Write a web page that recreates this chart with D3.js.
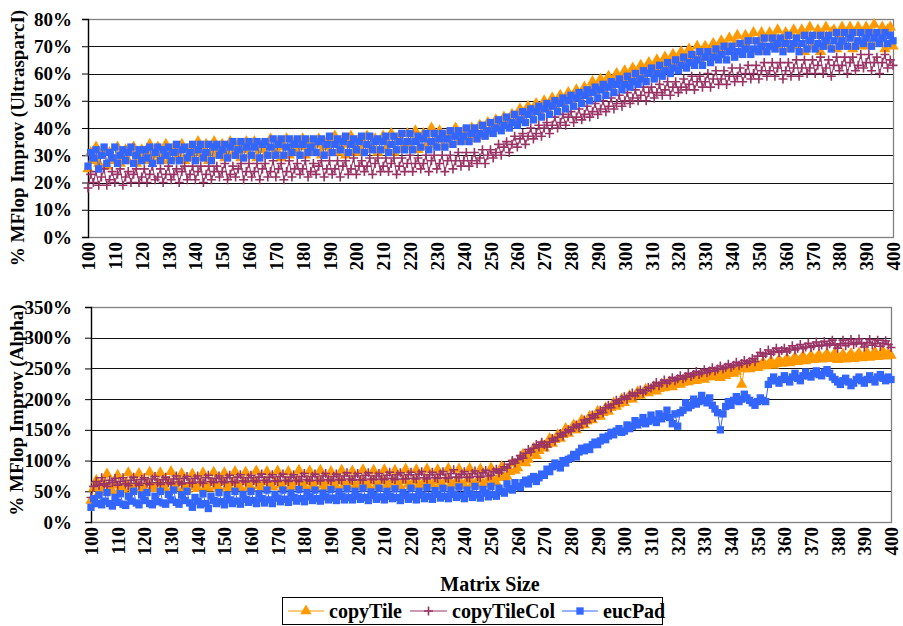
<!DOCTYPE html>
<html>
<head>
<meta charset="utf-8">
<script src="https://cdn.jsdelivr.net/npm/d3@7"></script>
<style>
  html, body { margin: 0; padding: 0; background: #fff; }
  svg { display: block; }
  text { font-family: "Liberation Serif", "Times New Roman", serif; font-weight: bold; fill: #000; }
</style>
</head>
<body>
<svg id="chart" width="903" height="626"></svg>
<script>
// Matrix sizes (one measurement per size) and axis labels
const sizes = d3.range(100, 401);
const xTickLabels = [100, 110, 120, 130, 140, 150, 160, 170, 180, 190, 200, 210, 220, 230, 240, 250,
                     260, 270, 280, 290, 300, 310, 320, 330, 340, 350, 360, 370, 380, 390, 400];
const ultraTicks = [0, 10, 20, 30, 40, 50, 60, 70, 80];
const alphaTicks = [0, 50, 100, 150, 200, 250, 300, 350];
const seriesNames = ["copyTile", "copyTileCol", "eucPad"];

// % MFlop improvement on the UltraSPARC I, sizes 100..400
const ultraCopyTile = [
  25, 31, 28, 33, 27, 30, 32, 26, 31, 29,
  28, 33, 27, 30, 32, 28, 31, 33, 27, 30,
  32, 28, 31, 34, 28, 30, 33, 29, 31, 34,
  28, 31, 33, 29, 30, 34, 28, 32, 33, 29,
  31, 35, 29, 32, 34, 28, 31, 35, 30, 32,
  34, 29, 31, 35, 30, 33, 34, 29, 32, 35,
  30, 33, 35, 29, 32, 34, 30, 33, 36, 30,
  32, 35, 29, 33, 36, 30, 32, 35, 31, 33,
  36, 30, 33, 35, 31, 34, 36, 30, 33, 35,
  31, 34, 37, 31, 33, 36, 30, 34, 37, 31,
  33, 36, 31, 34, 37, 32, 33, 36, 31, 35,
  37, 32, 34, 38, 31, 35, 37, 32, 34, 38,
  33, 35, 39, 32, 36, 38, 33, 35, 40, 34,
  36, 39, 33, 36, 38, 34, 37, 40, 35, 37,
  39, 35, 37, 40, 36, 38, 41, 37, 39, 42,
  38, 41, 43, 40, 42, 44, 41, 43, 45, 42,
  44, 47, 43, 46, 48, 45, 47, 49, 46, 48,
  50, 47, 49, 51, 48, 50, 52, 49, 51, 53,
  50, 52, 54, 51, 53, 55, 52, 54, 57, 53,
  55, 58, 54, 56, 59, 55, 57, 60, 56, 58,
  61, 57, 59, 62, 58, 60, 63, 59, 61, 64,
  60, 62, 65, 61, 63, 66, 62, 64, 67, 63,
  65, 68, 63, 66, 69, 64, 66, 70, 65, 67,
  70, 66, 68, 71, 67, 69, 72, 68, 70, 73,
  68, 71, 74, 67, 71, 74, 69, 72, 75, 68,
  72, 75, 68, 73, 75, 70, 73, 76, 69, 73,
  75, 69, 74, 76, 70, 74, 76, 68, 74, 77,
  70, 74, 76, 68, 74, 77, 70, 75, 76, 69,
  74, 77, 70, 75, 77, 69, 75, 77, 70, 75,
  77, 70, 75, 78, 71, 75, 77, 69, 76, 77,
  70
];
const ultraCopyTileCol = [
  18, 23, 20, 24, 19, 22, 25, 19, 21, 24,
  20, 23, 25, 19, 22, 24, 20, 23, 25, 20,
  22, 25, 20, 23, 26, 21, 22, 25, 20, 23,
  26, 21, 23, 25, 20, 24, 26, 21, 23, 26,
  21, 24, 26, 20, 23, 26, 21, 24, 26, 22,
  24, 27, 21, 23, 26, 22, 25, 27, 21, 24,
  27, 22, 24, 27, 21, 25, 27, 22, 24, 28,
  22, 25, 27, 21, 24, 28, 22, 25, 27, 23,
  25, 28, 22, 24, 27, 23, 26, 28, 22, 25,
  28, 23, 25, 28, 22, 26, 28, 23, 25, 29,
  23, 26, 28, 24, 26, 29, 23, 27, 29, 24,
  26, 29, 24, 27, 29, 23, 26, 29, 24, 27,
  30, 24, 27, 29, 25, 27, 30, 24, 28, 30,
  25, 27, 30, 24, 28, 30, 25, 28, 31, 26,
  28, 31, 26, 28, 31, 27, 29, 32, 27, 30,
  32, 29, 31, 34, 30, 33, 35, 31, 34, 37,
  33, 36, 38, 34, 37, 40, 36, 38, 41, 37,
  40, 42, 38, 41, 44, 40, 42, 45, 41, 44,
  46, 42, 44, 47, 43, 45, 48, 44, 46, 49,
  45, 47, 50, 46, 48, 51, 47, 49, 52, 48,
  50, 53, 49, 51, 54, 50, 52, 55, 50, 53,
  55, 51, 53, 56, 52, 54, 57, 52, 55, 57,
  53, 55, 58, 54, 56, 59, 54, 57, 59, 55,
  57, 60, 55, 58, 61, 56, 58, 61, 56, 59,
  62, 57, 59, 62, 57, 60, 63, 58, 60, 63,
  58, 61, 64, 59, 61, 64, 59, 62, 64, 58,
  61, 64, 59, 62, 65, 59, 62, 65, 60, 62,
  65, 60, 63, 66, 60, 62, 65, 59, 63, 66,
  61, 63, 66, 60, 64, 66, 61, 63, 67, 62,
  64, 67, 61, 64, 66, 60, 64, 67, 62, 65,
  63
];
const ultraEucPad = [
  26, 31, 29, 32, 25, 30, 33, 27, 31, 29,
  33, 27, 30, 32, 28, 31, 33, 27, 30, 32,
  28, 32, 29, 33, 27, 31, 33, 28, 32, 30,
  33, 28, 31, 34, 28, 32, 33, 29, 31, 34,
  28, 32, 34, 29, 31, 34, 28, 33, 34, 30,
  32, 34, 29, 33, 35, 30, 32, 35, 29, 33,
  35, 30, 33, 35, 29, 34, 35, 30, 33, 36,
  30, 34, 36, 30, 33, 36, 31, 34, 36, 30,
  34, 36, 31, 33, 36, 31, 35, 36, 30, 34,
  37, 31, 34, 36, 32, 35, 37, 31, 34, 36,
  32, 35, 37, 31, 34, 37, 32, 35, 36, 32,
  35, 37, 31, 34, 37, 32, 35, 38, 32, 35,
  38, 32, 35, 37, 33, 36, 38, 32, 35, 38,
  33, 36, 38, 33, 36, 39, 34, 37, 39, 35,
  37, 40, 35, 38, 40, 36, 38, 41, 37, 39,
  42, 38, 40, 43, 39, 41, 44, 40, 42, 45,
  41, 43, 46, 42, 45, 47, 43, 46, 48, 44,
  47, 49, 45, 48, 50, 46, 49, 51, 47, 50,
  52, 48, 51, 53, 49, 52, 54, 50, 53, 55,
  51, 54, 56, 52, 55, 57, 53, 56, 58, 54,
  56, 59, 55, 57, 60, 56, 58, 61, 57, 60,
  62, 58, 60, 63, 59, 61, 64, 60, 62, 65,
  61, 63, 66, 62, 64, 67, 63, 65, 68, 63,
  66, 68, 64, 66, 69, 65, 67, 70, 65, 68,
  70, 66, 68, 71, 67, 69, 72, 67, 69, 72,
  68, 70, 73, 68, 70, 73, 69, 71, 73, 68,
  71, 74, 69, 71, 73, 68, 71, 74, 69, 72,
  74, 69, 71, 74, 70, 72, 74, 69, 72, 75,
  70, 72, 75, 70, 73, 75, 70, 72, 75, 71,
  73, 75, 70, 73, 75, 71, 73, 75, 71, 74,
  72
];

// % MFlop improvement on the Alpha, sizes 100..400
const alphaCopyTile = [
  35, 55, 68, 48, 52, 62, 78, 55, 50, 60,
  76, 54, 52, 63, 80, 56, 53, 62, 79, 55,
  52, 64, 81, 57, 54, 63, 80, 56, 52, 65,
  82, 58, 55, 64, 79, 56, 53, 62, 78, 57,
  54, 63, 80, 57, 55, 64, 81, 58, 54, 65,
  80, 57, 55, 64, 82, 58, 56, 65, 81, 57,
  55, 66, 83, 59, 56, 65, 82, 58, 57, 66,
  83, 60, 56, 65, 82, 59, 57, 66, 84, 60,
  57, 65, 83, 59, 56, 66, 84, 60, 57, 65,
  82, 59, 57, 66, 84, 60, 58, 65, 83, 59,
  57, 66, 85, 60, 58, 66, 84, 59, 57, 67,
  85, 61, 58, 66, 84, 60, 57, 67, 86, 61,
  58, 66, 85, 60, 58, 67, 86, 61, 59, 67,
  85, 61, 58, 68, 87, 62, 59, 67, 86, 61,
  59, 68, 87, 62, 60, 68, 86, 62, 61, 70,
  88, 66, 64, 74, 90, 72, 74, 82, 96, 84,
  88, 98, 110, 96, 102, 112, 120, 108, 116, 126,
  120, 126, 136, 128, 134, 142, 136, 142, 152, 144,
  150, 158, 150, 156, 166, 158, 164, 172, 166, 172,
  180, 172, 178, 186, 180, 186, 194, 188, 192, 200,
  194, 200, 206, 200, 205, 212, 206, 210, 216, 210,
  214, 220, 213, 217, 224, 218, 222, 228, 220, 224,
  230, 224, 227, 234, 228, 231, 237, 230, 233, 239,
  232, 236, 242, 236, 238, 240, 235, 244, 238, 242,
  248, 242, 245, 252, 224, 249, 255, 249, 252, 258,
  251, 254, 260, 254, 256, 262, 255, 258, 264, 258,
  260, 266, 259, 262, 268, 261, 264, 270, 262, 265,
  271, 264, 266, 272, 265, 268, 274, 266, 269, 275,
  264, 267, 273, 265, 268, 274, 266, 269, 275, 267,
  270, 276, 268, 271, 277, 269, 272, 278, 270, 274,
  271
];
const alphaCopyTileCol = [
  40, 58, 66, 60, 72, 62, 58, 68, 64, 71,
  60, 66, 72, 62, 59, 68, 73, 63, 60, 69,
  72, 63, 61, 70, 74, 64, 61, 69, 73, 64,
  62, 70, 75, 65, 62, 71, 74, 64, 63, 71,
  75, 65, 63, 72, 76, 66, 64, 71, 75, 66,
  64, 72, 76, 66, 64, 73, 77, 67, 65, 72,
  76, 67, 65, 73, 78, 68, 65, 73, 77, 67,
  66, 74, 78, 68, 66, 73, 77, 68, 66, 74,
  79, 69, 67, 74, 78, 68, 67, 75, 79, 69,
  67, 74, 78, 69, 68, 75, 80, 70, 68, 75,
  79, 69, 68, 76, 80, 70, 69, 75, 79, 70,
  69, 76, 81, 71, 69, 77, 80, 70, 70, 77,
  81, 71, 70, 78, 82, 72, 70, 77, 81, 72,
  71, 78, 82, 72, 71, 79, 85, 73, 72, 78,
  82, 73, 72, 79, 83, 74, 73, 80, 84, 75,
  76, 82, 86, 80, 84, 90, 88, 94, 100, 96,
  102, 108, 104, 112, 118, 114, 120, 126, 122, 130,
  126, 122, 130, 136, 132, 138, 144, 140, 146, 150,
  148, 154, 158, 154, 160, 166, 162, 168, 174, 170,
  176, 182, 178, 186, 190, 186, 192, 198, 194, 200,
  204, 200, 206, 210, 205, 210, 215, 210, 214, 219,
  218, 222, 227, 222, 226, 231, 226, 230, 235, 230,
  233, 238, 233, 236, 242, 237, 240, 245, 240, 243,
  248, 243, 246, 251, 246, 249, 254, 249, 252, 257,
  252, 255, 260, 255, 258, 263, 258, 261, 266, 261,
  270, 276, 270, 274, 280, 273, 277, 283, 276, 279,
  283, 277, 281, 287, 280, 283, 289, 282, 285, 291,
  284, 287, 293, 286, 288, 294, 287, 290, 296, 288,
  283, 290, 296, 287, 291, 297, 289, 292, 298, 290,
  285, 292, 297, 288, 291, 296, 286, 291, 295, 289,
  284
];
const alphaEucPad = [
  24, 38, 30, 44, 28, 34, 48, 30, 26, 40,
  32, 46, 29, 27, 42, 34, 50, 31, 28, 44,
  35, 48, 30, 28, 42, 33, 50, 31, 29, 45,
  36, 52, 32, 29, 44, 35, 50, 31, 24, 40,
  34, 28, 46, 30, 22, 42, 35, 30, 48, 33,
  28, 44, 36, 30, 50, 34, 29, 45, 37, 32,
  50, 35, 30, 46, 38, 31, 52, 36, 30, 45,
  39, 33, 52, 37, 32, 47, 40, 34, 53, 38,
  33, 48, 41, 35, 52, 38, 34, 47, 41, 36,
  53, 39, 35, 49, 42, 36, 54, 40, 36, 50,
  42, 37, 55, 40, 35, 49, 43, 37, 55, 41,
  36, 50, 42, 38, 54, 40, 35, 48, 43, 37,
  55, 41, 36, 50, 44, 38, 56, 42, 37, 51,
  45, 39, 55, 42, 38, 52, 45, 40, 57, 43,
  38, 52, 46, 40, 58, 44, 39, 53, 47, 41,
  58, 45, 42, 55, 50, 47, 62, 54, 52, 64,
  58, 56, 64, 68, 62, 70, 74, 66, 72, 78,
  76, 86, 82, 90, 96, 92, 88, 100, 96, 102,
  104, 110, 106, 114, 120, 116, 122, 118, 126, 130,
  126, 132, 138, 134, 140, 146, 142, 148, 152, 146,
  148, 158, 152, 156, 165, 158, 162, 170, 160, 164,
  174, 166, 162, 176, 168, 172, 182, 170, 160, 176,
  156, 178, 182, 194, 186, 190, 200, 192, 196, 206,
  198, 194, 202, 190, 184, 178, 150, 176, 188, 196,
  190, 198, 204, 196, 200, 208, 202, 198, 194, 190,
  196, 202, 198, 196, 224, 230, 236, 230, 226, 232,
  238, 232, 228, 236, 242, 234, 230, 238, 244, 238,
  236, 242, 246, 240, 238, 244, 248, 242, 236, 232,
  228, 224, 230, 234, 228, 222, 226, 232, 236, 230,
  226, 232, 238, 232, 228, 236, 240, 234, 230, 236,
  232
];

const colors = { copyTile: "#FF9900", copyTileCol: "#993366", eucPad: "#3366FF" };

const svg = d3.select("#chart");

// marker shapes: filled triangle, thin plus, filled square
const triPath = d3.symbol(d3.symbolTriangle, 56)();
const sqPath = d3.symbol(d3.symbolSquare, 54)();
const plusPath = "M-4.5,0H4.5M0,-4.5V4.5";

function addMarker(sel, name) {
  if (name === "copyTile") {
    sel.append("path").attr("d", triPath).attr("fill", colors[name]);
  } else if (name === "copyTileCol") {
    sel.append("path").attr("d", plusPath).attr("fill", "none")
      .attr("stroke", colors[name]).attr("stroke-width", 1.6);
  } else {
    sel.append("path").attr("d", sqPath).attr("fill", colors[name]);
  }
}

function drawPanel(p) {
  const x = d3.scaleLinear().domain([100, 400]).range([p.left, p.right]);
  const y = d3.scaleLinear().domain([0, p.yMax]).range([p.bottom, p.top]);
  const g = svg.append("g");

  // horizontal gridlines
  g.selectAll("line.grid")
    .data(p.ticks.filter(t => t > 0 && t < p.yMax))
    .join("line")
    .attr("class", "grid")
    .attr("x1", p.left).attr("x2", p.right)
    .attr("y1", d => Math.round(y(d)) + 0.5).attr("y2", d => Math.round(y(d)) + 0.5)
    .attr("stroke", "#111").attr("stroke-width", 1);

  // plot area frame
  g.append("rect")
    .attr("x", p.left + 0.5).attr("y", Math.round(p.top) + 0.5)
    .attr("width", p.right - p.left).attr("height", Math.round(p.bottom) - Math.round(p.top))
    .attr("fill", "none").attr("stroke", "#808080").attr("stroke-width", 1.3);

  // y axis
  const ya = g.append("g")
    .attr("transform", `translate(${p.left},0)`)
    .call(d3.axisLeft(y).tickValues(p.ticks).tickSize(6).tickPadding(p.pad).tickFormat(d => d + "%"));
  ya.select(".domain").attr("stroke", "#000").attr("stroke-width", 1.3);
  ya.selectAll(".tick line").attr("stroke", "#000");
  ya.selectAll("text").attr("font-size", 19).attr("font-family", null).attr("font-weight", "bold");

  // x axis labels, rotated
  const xa = g.append("g")
    .attr("transform", `translate(0,${p.bottom})`)
    .call(d3.axisBottom(x).tickValues(xTickLabels).tickSize(0).tickPadding(0));
  xa.select(".domain").remove();
  xa.selectAll("text")
    .attr("font-size", 19).attr("font-family", null).attr("font-weight", "bold")
    .attr("transform", "rotate(-90)")
    .attr("text-anchor", "end")
    .attr("x", -5).attr("y", 0).attr("dy", "0.35em");

  // y axis title
  g.append("text")
    .attr("transform", `translate(${p.titleX},${p.titleY}) rotate(-90)`)
    .attr("text-anchor", "middle").attr("dy", "0.35em")
    .attr("font-size", 19)
    .text(p.title);

  // series: connecting line then markers, drawn in legend order
  const line = d3.line().x((d, i) => x(sizes[i])).y(d => y(d));
  p.series.forEach((vals, k) => {
    const name = seriesNames[k];
    const sg = g.append("g");
    sg.append("path").datum(vals).attr("d", line)
      .attr("fill", "none").attr("stroke", colors[name]).attr("stroke-width", 1);
    sg.selectAll("g.m").data(vals).join("g")
      .attr("class", "m")
      .attr("transform", (d, i) => `translate(${x(sizes[i])},${y(d)})`)
      .each(function () { addMarker(d3.select(this), name); });
  });
}

drawPanel({
  left: 88, right: 893, top: 19, bottom: 237, yMax: 80, ticks: ultraTicks, pad: 10,
  titleX: 17, titleY: 138, title: "% MFlop Improv (UltrasparcI)",
  series: [ultraCopyTile, ultraCopyTileCol, ultraEucPad]
});
drawPanel({
  left: 91, right: 891, top: 307, bottom: 522, yMax: 350, ticks: alphaTicks, pad: 13,
  titleX: 16, titleY: 410, title: "% MFlop Improv (Alpha)",
  series: [alphaCopyTile, alphaCopyTileCol, alphaEucPad]
});

// x axis title
svg.append("text")
  .attr("x", 490).attr("y", 591)
  .attr("text-anchor", "middle").attr("font-size", 20)
  .text("Matrix Size");

// legend
const legend = svg.append("g");
legend.append("rect")
  .attr("x", 282.5).attr("y", 597.5).attr("width", 380).attr("height", 27)
  .attr("fill", "#fff").attr("stroke", "#000").attr("stroke-width", 1);
const legendItems = [
  { name: "copyTile", x0: 288, x1: 324, tx: 329 },
  { name: "copyTileCol", x0: 410, x1: 447, tx: 452 },
  { name: "eucPad", x0: 562, x1: 598, tx: 603 }
];
legendItems.forEach(it => {
  legend.append("line")
    .attr("x1", it.x0).attr("x2", it.x1).attr("y1", 611).attr("y2", 611)
    .attr("stroke", colors[it.name]).attr("stroke-width", 1);
  const m = legend.append("g").attr("transform", `translate(${(it.x0 + it.x1) / 2},611)`);
  addMarker(m, it.name);
  legend.append("text")
    .attr("x", it.tx).attr("y", 617.5)
    .attr("font-size", 20)
    .text(it.name);
});
</script>
</body>
</html>
